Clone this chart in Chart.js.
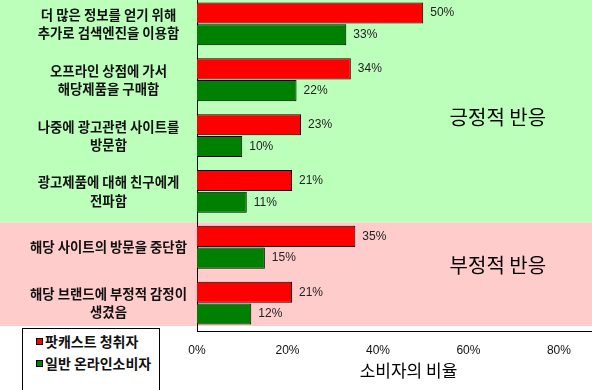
<!DOCTYPE html>
<html>
<head>
<meta charset="utf-8">
<script src="https://cdn.jsdelivr.net/npm/chart.js@4.4.0/dist/chart.umd.min.js"></script>
<style>
html, body { margin: 0; padding: 0; overflow: hidden; background: #fff; }
body { width: 592px; height: 390px; position: relative; }
#wrap { position: absolute; left: 0; top: -4px; width: 620px; height: 394px; }
#legend { position: absolute; left: 22px; top: 328px; width: 136px; height: 70px;
  border: 1px solid #000; background: #fff;
  font-family: "Noto Sans CJK KR"; font-weight: bold; font-size: 14px; color: #111; }
.item { position: absolute; left: 13px; height: 20px; line-height: 20px; display: flex; align-items: center; white-space: nowrap; }
.sw { width: 5px; height: 5px; border: 1px solid #000; margin-right: 2px; }
</style>
</head>
<body>
<div id="wrap"><canvas id="chart"></canvas></div>
<div id="legend"></div>
<script>
const categories = [
    ["더 많은 정보를 얻기 위해", "추가로 검색엔진을 이용함"],
    ["오프라인 상점에 가서", "해당제품을 구매함"],
    ["나중에 광고관련 사이트를", "방문함"],
    ["광고제품에 대해 친구에게", "전파함"],
    ["해당 사이트의 방문을 중단함"],
    ["해당 브랜드에 부정적 감정이", "생겼음"]
];
const podcastValues = [50, 34, 23, 21, 35, 21];
const onlineValues = [33, 22, 10, 11, 15, 12];
const seriesNames = ["팟캐스트 청취자", "일반 온라인소비자"];
const seriesColors = ["#ff0000", "#008000"];
const xTicks = [0, 20, 40, 60, 80];
const groupNames = ["긍정적 반응", "부정적 반응"];
const axisTitle = "소비자의 비율";

// html legend, bottom left box
const legendEl = document.getElementById('legend');
seriesNames.forEach((name, i) => {
    const item = document.createElement('div');
    item.className = 'item';
    item.style.top = (2 + i * 22) + 'px';
    item.innerHTML = '<span class="sw" style="background:' + seriesColors[i] + '"></span>' + name;
    legendEl.appendChild(item);
});

const bandPlugin = {
    id: 'bands',
    beforeDraw(chart) {
        const ctx = chart.ctx;
        const y = chart.scales.y;
        const area = chart.chartArea;
        const split = (y.getPixelForValue(3) + y.getPixelForValue(4)) / 2 + 3;
        ctx.save();
        ctx.fillStyle = '#bbffbb';
        ctx.fillRect(0, 0, chart.width, split);
        ctx.fillStyle = '#ffcccc';
        ctx.fillRect(0, split, chart.width, area.bottom - 5 - split);
        ctx.restore();
    }
};

const labelPlugin = {
    id: 'barLabels',
    afterDatasetsDraw(chart) {
        const ctx = chart.ctx;
        ctx.save();
        ctx.font = '12px "Liberation Sans", Arial';
        ctx.fillStyle = '#222';
        ctx.textBaseline = 'middle';
        chart.data.datasets.forEach((ds, i) => {
            chart.getDatasetMeta(i).data.forEach((bar, j) => {
                ctx.fillText(ds.data[j] + '%', bar.x + 7, bar.y);
            });
        });
        // group names
        const x = chart.scales.x;
        const y = chart.scales.y;
        ctx.font = '20px "Noto Sans CJK KR"';
        ctx.fillStyle = '#000';
        ctx.textAlign = 'center';
        ctx.fillText(groupNames[0], x.getPixelForValue(66.5), y.getPixelForValue(1.67));
        ctx.fillText(groupNames[1], x.getPixelForValue(66.5), y.getPixelForValue(4.32));
        ctx.restore();
    }
};

const ctx = document.getElementById('chart').getContext('2d');
const chart = new Chart(ctx, {
    type: 'bar',
    data: {
        labels: categories,
        datasets: [
            {
                label: seriesNames[0],
                data: podcastValues,
                backgroundColor: seriesColors[0],
                borderColor: '#000',
                borderWidth: 1,
            },
            {
                label: seriesNames[1],
                data: onlineValues,
                backgroundColor: seriesColors[1],
                borderColor: '#000',
                borderWidth: 1,
            }
        ]
    },
    options: {
        indexAxis: 'y',
        responsive: true,
        maintainAspectRatio: false,
        animation: false,
        datasets: {
            bar: { categoryPercentage: 0.78, barPercentage: 0.97 }
        },
        layout: { padding: 0 },
        scales: {
            x: {
                min: 0,
                max: 93.5,
                afterBuildTicks: s => { s.ticks = xTicks.map(v => ({ value: v })); },
                afterFit: s => { s.height = 59; s.paddingLeft = 0; s.paddingRight = 0; },
                grid: { display: false, drawTicks: false },
                border: { color: '#000', width: 1 },
                ticks: {
                    callback: v => v + '%',
                    padding: 12,
                    color: '#111',
                    font: { family: '"Liberation Sans", Arial', size: 12 }
                },
                title: {
                    display: true,
                    text: axisTitle,
                    color: '#000',
                    font: { family: '"Noto Sans CJK KR"', size: 17 },
                    padding: { top: 2, bottom: 9 }
                }
            },
            y: {
                afterFit: s => { s.width = 197; s.paddingTop = 0; s.paddingBottom = 0; },
                grid: { display: false, drawTicks: false },
                border: { color: '#000', width: 1 },
                ticks: {
                    crossAlign: 'center',
                    padding: 10,
                    color: '#111',
                    font: { family: '"Noto Sans CJK KR"', size: 13.4, weight: 'bold', lineHeight: 1.35 }
                }
            }
        },
        plugins: {
            legend: { display: false },
            tooltip: { enabled: false }
        }
    },
    plugins: [bandPlugin, labelPlugin]
});
</script>
</body>
</html>
